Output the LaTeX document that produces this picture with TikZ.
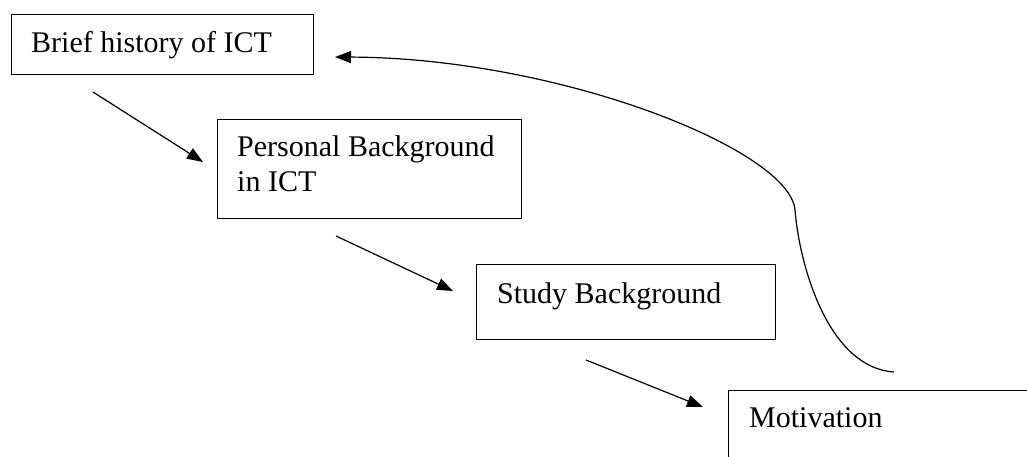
\documentclass[tikz,border=0pt]{standalone}
\usepackage{fontspec}
\setmainfont{Liberation Serif}
\usetikzlibrary{arrows.meta}
\begin{document}
\begin{tikzpicture}[x=1pt,y=-1pt,
  stagebox/.style={draw=black,line width=1.1pt,rectangle,inner sep=0pt,anchor=north west},
  lbl/.style={anchor=base west,inner sep=0pt,font=\fontsize{30}{35}\selectfont},
  flow/.style={line width=1.2pt,-{Triangle[length=16pt,width=12pt]}},
  back/.style={line width=1.2pt,-{Triangle[length=16pt,width=12pt]}}]
\useasboundingbox (0,0) rectangle (1027,457);
\clip (0,0) rectangle (1027,457);
% boxes
\node[stagebox,minimum width=302pt,minimum height=60pt] (b1) at (11,14) {};
\node[stagebox,minimum width=304pt,minimum height=99pt] (b2) at (217,119) {};
\node[stagebox,minimum width=299pt,minimum height=75pt] (b3) at (476,264) {};
\node[stagebox,minimum width=320pt,minimum height=90pt] (b4) at (728,390) {};
% labels
\node[lbl] (t1) at (31,53) {Brief history of ICT};
\node[lbl] (t2) at (237,157) {Personal Background};
\node[lbl] (t2b) at (237,192) {in ICT};
\node[lbl] (t3) at (497,303) {Study Background};
\node[lbl] (t4) at (749,427) {Motivation};
% arrow end points
\coordinate (a1s) at (93,92);   \coordinate (a1e) at (203,162);
\coordinate (a2s) at (336,236); \coordinate (a2e) at (453,291);
\coordinate (a3s) at (586,360); \coordinate (a3e) at (703,407);
\coordinate (cs) at (894,372);  \coordinate (ce) at (335,57);
\draw[flow] (a1s) -- (a1e);
\draw[flow] (a2s) -- (a2e);
\draw[flow] (a3s) -- (a3e);
\draw[back] (cs) .. controls (830,368) and (800,270) .. (795,210)
  .. controls (790,150) and (560,58) .. (ce);
\end{tikzpicture}
\end{document}
